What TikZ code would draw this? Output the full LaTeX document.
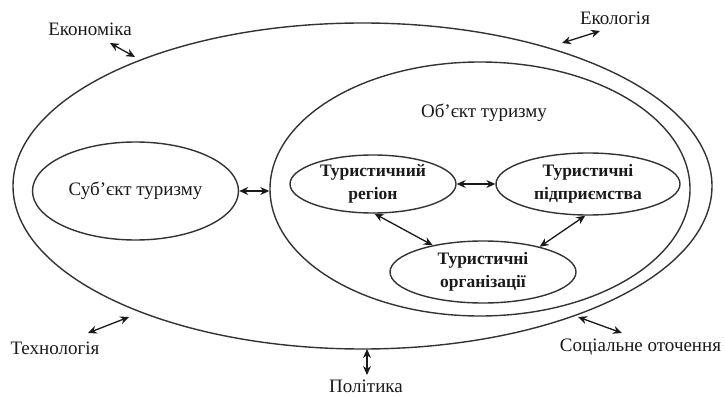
\documentclass[tikz,border=0pt]{standalone}
\usepackage{fontspec}
\setmainfont{Liberation Serif}
\usetikzlibrary{shapes.geometric,arrows.meta}
\definecolor{ln}{HTML}{333333}
\definecolor{tx}{HTML}{1a1a1a}
\begin{document}
\begin{tikzpicture}[x=1pt,y=-1pt,
  ell/.style={draw=ln, line width=1.4pt, ellipse, inner sep=0pt, align=center, text=tx},
  lbl/.style={font=\fontsize{19}{23}\selectfont, text=tx, inner sep=0pt},
  bx/.style={font=\fontsize{17.5}{23}\selectfont\bfseries},
  link/.style={{Stealth[length=9pt,width=8pt]}-{Stealth[length=9pt,width=8pt]}, line width=1.3pt, draw=tx}]
\useasboundingbox (0,0) rectangle (725,398);
\fill[white] (0,0) rectangle (725,398);
% ellipses
\node[ell, minimum width=699pt, minimum height=326pt] (outer) at (362.5,186) {};
\node[ell, minimum width=420pt, minimum height=254pt] (obj) at (480,189) {};
\node[ell, minimum width=206pt, minimum height=98pt, lbl] (subj) at (135.5,191) {Суб’єкт туризму};
\node[lbl] (objl) at (484,113) {Об’єкт туризму};
\node[ell, minimum width=166pt, minimum height=58pt, bx] (reg) at (373,184) {Туристичний\\регіон};
\node[ell, minimum width=184pt, minimum height=62pt, bx] (ent) at (588,184) {Туристичні\\підприємства};
\node[ell, minimum width=186pt, minimum height=62pt, bx] (org) at (483,272) {Туристичні\\організації};
% inner connectors
\draw[link] (subj.east) -- (subj.east -| obj.west);
\draw[link] (reg.east) -- (ent.west);
\draw[link] (reg.-87) -- (org.152);
\draw[link] (ent.-95) -- (org.24);
% outside labels
\node[lbl] (eco) at (90,29) {Економіка};
\node[lbl] (ekol) at (615,18) {Екологія};
\node[lbl] (tech) at (55,348) {Технологія};
\node[lbl] (pol) at (366,386) {Політика};
\node[lbl] (soc) at (640.5,347) {Соціальне оточення};
% arrow ends
\coordinate (e1) at (110,43); \coordinate (e2) at (135,57);
\coordinate (k1) at (562,43); \coordinate (k2) at (600,31);
\coordinate (t1) at (88,333); \coordinate (t2) at (129,317);
\coordinate (p1) at (367,349); \coordinate (p2) at (367,375);
\coordinate (s1) at (578,317); \coordinate (s2) at (622,333);
\draw[link] (e1) -- (e2);
\draw[link] (k1) -- (k2);
\draw[link] (t1) -- (t2);
\draw[link] (p1) -- (p2);
\draw[link] (s1) -- (s2);
\end{tikzpicture}
\end{document}
